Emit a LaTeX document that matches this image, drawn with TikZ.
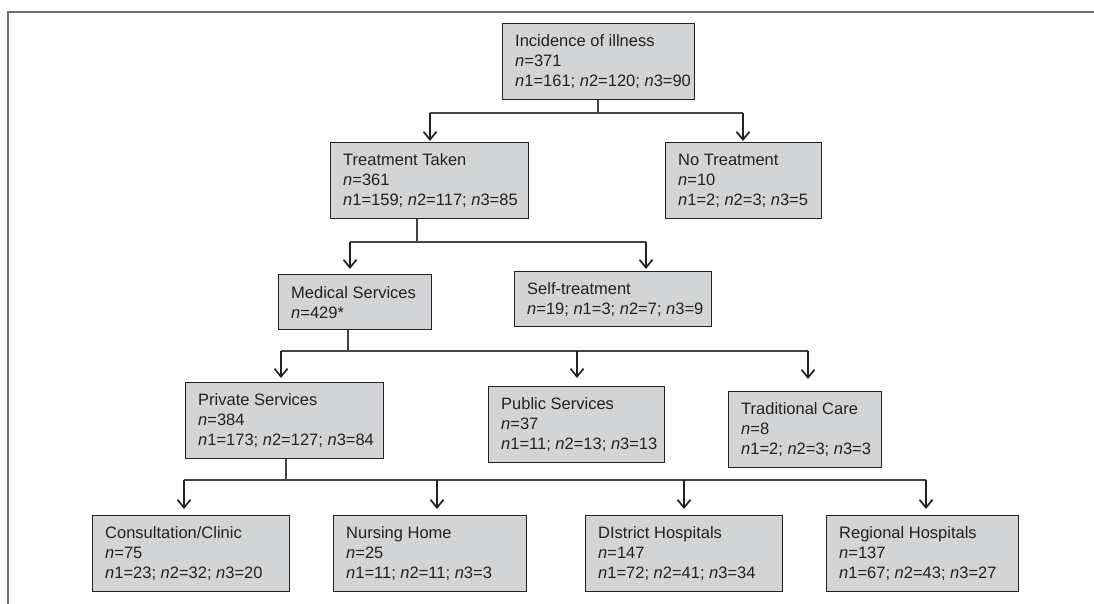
\documentclass[tikz,border=0pt]{standalone}
\usepackage{fontspec}
\setmainfont{Liberation Sans}
\usetikzlibrary{arrows.meta}
\definecolor{boxfill}{RGB}{211,212,214}
\definecolor{ink}{RGB}{34,34,34}
\definecolor{framec}{RGB}{110,110,110}
\newcommand\ii{\textit{n}}
\newcommand\bx[6]{%
  \node[box, minimum width={#4-#2}, minimum height={#5-#3}] (#1) at (#2,#3) {};
  \node[txt] (#1t) at ([xshift=13pt]#1.west) {#6};}
\begin{document}
\begin{tikzpicture}[x=1pt,y=-1pt,
  box/.style={draw=ink, line width=1.3pt, fill=boxfill, inner sep=0pt, anchor=north west},
  txt/.style={inner sep=0pt, align=left, anchor=west, font=\fontsize{16.5}{20}\selectfont, text=ink},
  link/.style={draw=ink!85, line width=1.1pt},
  arr/.style={draw=ink, line width=1.7pt, -{Straight Barb[length=8pt,width=13pt,line width=1.7pt]}}
]
\useasboundingbox (0,0) rectangle (1094,604);
\draw[framec, line width=1.5pt] (1094,12) -- (8,12) -- (8,604);

\bx{inc}{502}{23}{694}{99}{Incidence of illness\\\ii=371\\\ii1=161; \ii2=120; \ii3=90}
\bx{tt}{330}{142}{528}{218}{Treatment Taken\\\ii=361\\\ii1=159; \ii2=117; \ii3=85}
\bx{nt}{665}{142}{821}{218}{No Treatment\\\ii=10\\\ii1=2; \ii2=3; \ii3=5}
\bx{med}{278}{274}{431}{329}{Medical Services\\\ii=429*}
\bx{self}{514}{271}{711}{326}{Self-treatment\\\ii=19; \ii1=3; \ii2=7; \ii3=9}
\bx{priv}{185}{382}{383}{458}{Private Services\\\ii=384\\\ii1=173; \ii2=127; \ii3=84}
\bx{pub}{488}{386}{664}{462}{Public Services\\\ii=37\\\ii1=11; \ii2=13; \ii3=13}
\bx{trad}{728}{391}{881}{467}{Traditional Care\\\ii=8\\\ii1=2; \ii2=3; \ii3=3}
\bx{con}{92}{515}{289}{591}{Consultation/Clinic\\\ii=75\\\ii1=23; \ii2=32; \ii3=20}
\bx{nur}{333}{515}{526}{591}{Nursing Home\\\ii=25\\\ii1=11; \ii2=11; \ii3=3}
\bx{dis}{585}{515}{782}{591}{DIstrict Hospitals\\\ii=147\\\ii1=72; \ii2=41; \ii3=34}
\bx{reg}{826}{515}{1018}{591}{Regional Hospitals\\\ii=137\\\ii1=67; \ii2=43; \ii3=27}

% level 1
\coordinate (j1) at (598,113);
\coordinate (j1l) at (430,113);
\coordinate (j1r) at (743,113);
\draw[link] (inc.south -| j1) -- (j1);
\draw[link] (j1l) -- (j1r);
\draw[arr, shorten >=1pt] (j1l) -- (j1l |- tt.north);
\draw[arr, shorten >=1pt] (j1r) -- (j1r |- nt.north);
% level 2
\coordinate (j2) at (417,242);
\coordinate (j2l) at (350,242);
\coordinate (j2r) at (646,242);
\draw[link] (tt.south -| j2) -- (j2);
\draw[link] (j2l) -- (j2r);
\draw[arr, shorten >=5pt] (j2l) -- (j2l |- med.north);
\draw[arr, shorten >=2pt] (j2r) -- (j2r |- self.north);
% level 3
\coordinate (j3) at (348,351);
\coordinate (j3a) at (281,351);
\coordinate (j3b) at (577,351);
\coordinate (j3c) at (808,351);
\draw[link] (med.south -| j3) -- (j3);
\draw[link] (j3a) -- (j3c);
\draw[arr, shorten >=4pt] (j3a) -- (j3a |- priv.north);
\draw[arr, shorten >=8pt] (j3b) -- (j3b |- pub.north);
\draw[arr, shorten >=12pt] (j3c) -- (j3c |- trad.north);
% level 4
\coordinate (j4) at (286,480);
\coordinate (j4a) at (184,480);
\coordinate (j4b) at (437,480);
\coordinate (j4c) at (684,480);
\coordinate (j4d) at (926,480);
\draw[link] (priv.south -| j4) -- (j4);
\draw[link] (j4a) -- (j4d);
\draw[arr, shorten >=6pt] (j4a) -- (j4a |- con.north);
\draw[arr, shorten >=6pt] (j4b) -- (j4b |- nur.north);
\draw[arr, shorten >=6pt] (j4c) -- (j4c |- dis.north);
\draw[arr, shorten >=6pt] (j4d) -- (j4d |- reg.north);
\end{tikzpicture}
\end{document}
